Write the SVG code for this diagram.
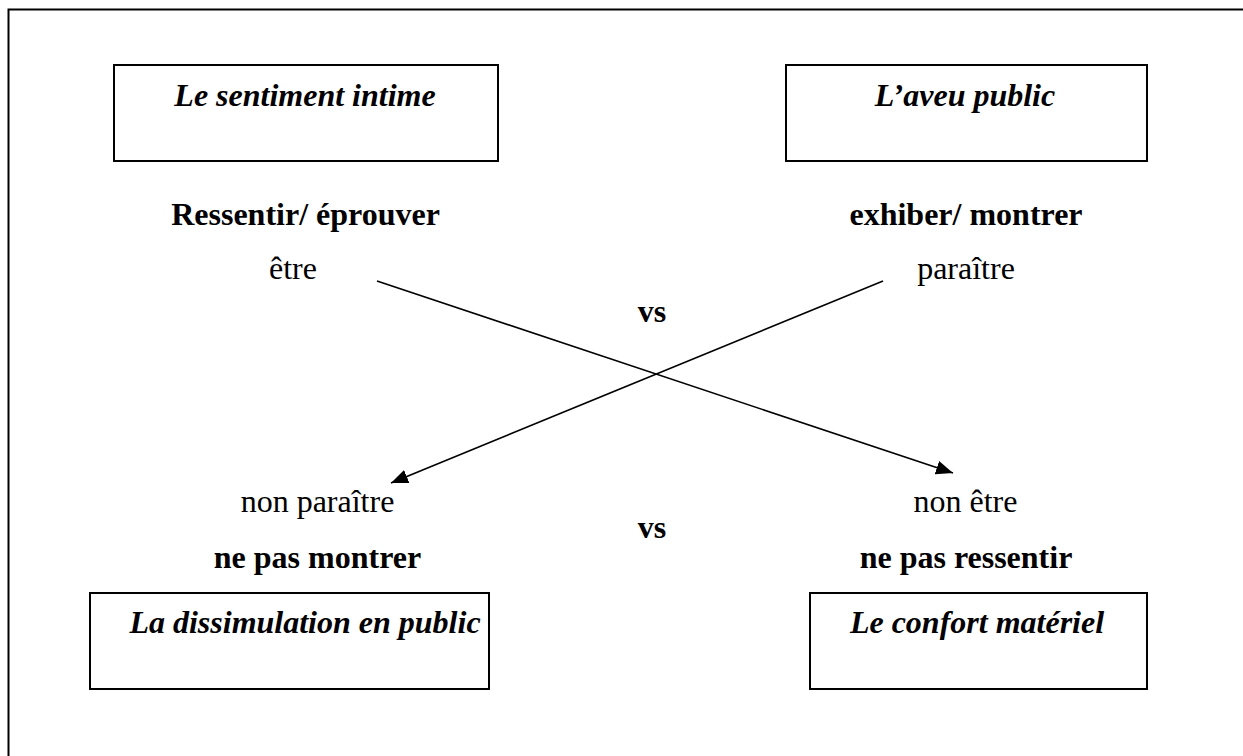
<svg xmlns="http://www.w3.org/2000/svg" width="1243" height="756" viewBox="0 0 1243 756">
<style>
  .box { fill: #ffffff; stroke: #000000; stroke-width: 2; }
  .t { font-family: "Liberation Serif", "Times New Roman", serif; font-size: 32px; fill: #000000; text-anchor: middle; }
  .bi { font-weight: bold; font-style: italic; }
  .b { font-weight: bold; }
  .frame { stroke: #000000; stroke-width: 2; fill: none; }
  .conn { stroke: #000000; stroke-width: 1.6; fill: none; marker-end: url(#arrow); }
</style>
<defs>
  <marker id="arrow" markerUnits="userSpaceOnUse" markerWidth="18" markerHeight="14" refX="17" refY="7" orient="auto">
    <path d="M0,0 L17,7 L0,14 z" fill="#000000"/>
  </marker>
</defs>
<rect width="1243" height="756" fill="#ffffff"/>
<g id="frame">
  <path class="frame" d="M1243,9.5 L8.5,9.5 L8.5,756"/>
</g>
<g id="node-sentiment-intime">
  <rect class="box" x="114" y="65" width="384" height="96"/>
  <text class="t bi" x="305" y="106">Le sentiment intime</text>
</g>
<g id="node-aveu-public">
  <rect class="box" x="786" y="65" width="361" height="96"/>
  <text class="t bi" x="965" y="106">L’aveu public</text>
</g>
<g id="node-ressentir">
  <text class="t b" x="305.5" y="225">Ressentir/ éprouver</text>
  <text class="t" x="293" y="279">être</text>
</g>
<g id="node-exhiber">
  <text class="t b" x="966" y="225">exhiber/ montrer</text>
  <text class="t" x="966" y="279">paraître</text>
</g>
<g id="vs-top">
  <text class="t b" x="652" y="322">vs</text>
</g>
<g id="vs-bottom">
  <text class="t b" x="652" y="538">vs</text>
</g>
<g id="node-non-paraitre">
  <text class="t" x="317.5" y="512">non paraître</text>
  <text class="t b" x="317.5" y="568">ne pas montrer</text>
</g>
<g id="node-non-etre">
  <text class="t" x="965.5" y="512">non être</text>
  <text class="t b" x="966" y="568">ne pas ressentir</text>
</g>
<g id="node-dissimulation">
  <rect class="box" x="90" y="593" width="399" height="96"/>
  <text class="t bi" x="305" y="633">La dissimulation en public</text>
</g>
<g id="node-confort">
  <rect class="box" x="810" y="593" width="337" height="96"/>
  <text class="t bi" x="977" y="633">Le confort matériel</text>
</g>
<g id="connectors">
  <line class="conn" x1="377" y1="281" x2="953" y2="473"/>
  <line class="conn" x1="883" y1="281" x2="391" y2="483"/>
</g>
</svg>
